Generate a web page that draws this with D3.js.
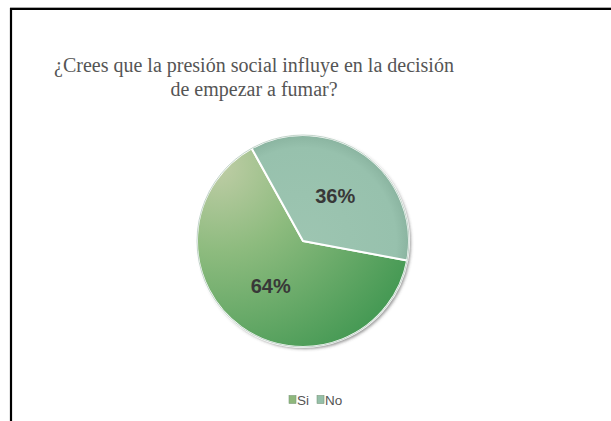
<!DOCTYPE html>
<html>
<head>
<meta charset="utf-8">
<script src="https://cdn.jsdelivr.net/npm/d3@7"></script>
<style>
  html, body { margin: 0; padding: 0; background: #fff; }
  svg { display: block; }
</style>
</head>
<body>
<svg id="chart" width="611" height="421"></svg>
<script>
// Survey answers
const categories = ["Si", "No"];
const values = [64, 36];
const titleLines = ["¿Crees que la presión social influye en la decisión", "de empezar a fumar?"];

const W = 611, H = 421;
const svg = d3.select("#chart");
const defs = svg.append("defs");

// Frame of the chart area
svg.append("line").attr("x1", 10).attr("x2", W).attr("y1", 7.5).attr("y2", 7.5)
  .attr("stroke", "#aaa").attr("stroke-width", 1);
svg.append("path").attr("d", `M11,${H} V9 H${W}`)
  .attr("fill", "none").attr("stroke", "#000").attr("stroke-width", 2.2);

// Title
const title = svg.append("text")
  .attr("text-anchor", "middle")
  .attr("font-family", "'Liberation Serif', 'Times New Roman', serif")
  .attr("font-size", 20)
  .attr("fill", "#555");
titleLines.forEach((t, i) => {
  title.append("tspan").attr("x", 254).attr("y", 72 + i * 24).text(t);
});

const cx = 303, cy = 241, R = 106;

// Slice fills (coordinates relative to the pie centre)
const gSi = defs.append("radialGradient").attr("id", "gSi")
  .attr("gradientUnits", "userSpaceOnUse")
  .attr("cx", -85).attr("cy", -75).attr("r", 215);
gSi.append("stop").attr("offset", "0%").attr("stop-color", "#bfcda6");
gSi.append("stop").attr("offset", "40%").attr("stop-color", "#8dbb7e");
gSi.append("stop").attr("offset", "100%").attr("stop-color", "#479a55");

const gNo = defs.append("radialGradient").attr("id", "gNo")
  .attr("gradientUnits", "userSpaceOnUse")
  .attr("cx", 0).attr("cy", 0).attr("r", R);
gNo.append("stop").attr("offset", "0%").attr("stop-color", "#9dc5b1");
gNo.append("stop").attr("offset", "88%").attr("stop-color", "#97c1ad");
gNo.append("stop").attr("offset", "100%").attr("stop-color", "#8ab4a0");

const fills = d3.scaleOrdinal().domain(categories).range(["url(#gSi)", "url(#gNo)"]);
const swatch = d3.scaleOrdinal().domain(categories).range(["#8fb87c", "#95bfa9"]);

// Soft rim shadow
const shadow = defs.append("filter").attr("id", "rim").attr("x", "-20%").attr("y", "-20%")
  .attr("width", "140%").attr("height", "140%");
shadow.append("feGaussianBlur").attr("in", "SourceAlpha").attr("stdDeviation", 1.6);
shadow.append("feOffset").attr("dx", 1.5).attr("dy", 1.5).attr("result", "b");
shadow.append("feFlood").attr("flood-color", "#444").attr("flood-opacity", 0.55);
shadow.append("feComposite").attr("in2", "b").attr("operator", "in");
const merge = shadow.append("feMerge");
merge.append("feMergeNode");
merge.append("feMergeNode").attr("in", "SourceGraphic");

const startDeg = 100.6;
const pie = d3.pie().sort(null).value(d => d.v)
  .startAngle(startDeg * Math.PI / 180)
  .endAngle((startDeg + 360) * Math.PI / 180);
const data = categories.map((c, i) => ({ c, v: values[i] }));
const arcs = pie(data);
const arc = d3.arc().innerRadius(0).outerRadius(R);

const pg = svg.append("g").attr("transform", `translate(${cx},${cy})`);
pg.append("circle").attr("r", R).attr("fill", "#8aa").attr("filter", "url(#rim)");
pg.selectAll("path.slice").data(arcs).join("path")
  .attr("class", "slice")
  .attr("d", arc)
  .attr("fill", d => fills(d.data.c))
  .attr("stroke", "#fff").attr("stroke-width", 2).attr("stroke-linejoin", "round");

// Thin rim so the white separators do not show on the outer edge
pg.append("circle").attr("r", R)
  .attr("fill", "none").attr("stroke", "#7fa590").attr("stroke-width", 0.8).attr("opacity", 0.6);

// Percentage labels
const labelArc = d3.arc().innerRadius(R * 0.52).outerRadius(R * 0.52);
pg.selectAll("text").data(arcs).join("text")
  .attr("transform", d => `translate(${labelArc.centroid(d)})`)
  .attr("text-anchor", "middle").attr("dy", "0.35em")
  .attr("font-family", "'Liberation Sans', Arial, sans-serif")
  .attr("font-weight", "bold").attr("font-size", 20)
  .attr("fill", "#383838")
  .text(d => Math.round(d.data.v) + "%");

// Legend
const lg = svg.append("g").attr("transform", "translate(289,400)")
  .attr("font-family", "'Liberation Sans', Arial, sans-serif")
  .attr("font-size", 13.5).attr("fill", "#555");
let lx = 0;
categories.forEach((c, i) => {
  lg.append("rect").attr("x", lx).attr("y", -4.5).attr("width", 7).attr("height", 8)
    .attr("fill", swatch(c)).attr("stroke", "#7a9a7a").attr("stroke-width", 0.6);
  const t = lg.append("text").attr("x", lx + 8).attr("y", 0).attr("dy", "0.36em").text(c);
  lx += 8 + t.node().getComputedTextLength() + 8;
});
</script>
</body>
</html>
